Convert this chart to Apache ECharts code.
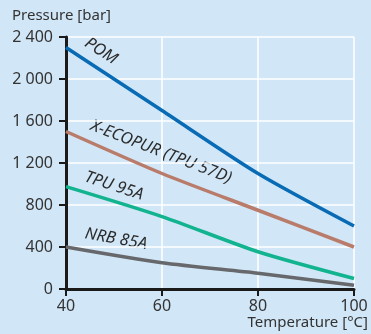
<!DOCTYPE html>
<html>
<head>
<meta charset="utf-8">
<script src="https://cdn.jsdelivr.net/npm/echarts@6/dist/echarts.min.js"></script>
<style>
  html, body { margin: 0; padding: 0; background: #d1e6f6; }
  #chart { width: 371px; height: 334px; }
</style>
</head>
<body>
<div id="chart"></div>
<script>
const temperatures = [40, 60, 80, 100]
const pom = [2300, 1700, 1100, 600]
const xEcopur = [1500, 1100, 750, 400]
const tpu95a = [975, 690, 355, 100]
const nrb85a = [400, 250, 150, 35]
const yTicks = [0, 400, 800, 1200, 1600, 2000, 2400]

const toPairs = (vals) => temperatures.map((t, i) => [t, vals[i]])

const seriesDefs = [
  { name: 'POM', data: pom, color: '#0a6bb5' },
  { name: 'X-ECOPUR (TPU 57D)', data: xEcopur, color: '#b97b6a' },
  { name: 'TPU 95A', data: tpu95a, color: '#12b38f' },
  { name: 'NRB 85A', data: nrb85a, color: '#67686b' }
]

const axisNameStyle = { fill: '#333', fontSize: 15, fontFamily: 'Noto Sans' }
const lineLabelStyle = {
  fill: '#2b2b2b', fontSize: 16.5, fontFamily: 'Noto Sans', fontStyle: 'italic',
  align: 'center', verticalAlign: 'middle'
}
const deg = Math.PI / 180

// rotated line labels, anchored at their centre
const lineLabel = (text, cx, cy, angle) => ({
  type: 'text', x: cx, y: cy, rotation: -angle * deg,
  style: { text, ...lineLabelStyle }
})

const chart = echarts.init(document.getElementById('chart'))
chart.setOption({
  backgroundColor: '#d1e6f6',
  animation: false,
  grid: { left: 66, right: 17, top: 37, bottom: 45 },
  xAxis: {
    type: 'value',
    min: 40,
    max: 100,
    interval: 20,
    axisLine: { lineStyle: { color: '#1a1a1a', width: 3 } },
    axisTick: { length: 7, lineStyle: { color: '#1a1a1a', width: 2 } },
    axisLabel: { color: '#333', fontSize: 16, fontFamily: 'Noto Sans', margin: 9 },
    splitLine: { show: true, lineStyle: { color: '#ffffff', width: 1.5 } }
  },
  yAxis: {
    type: 'value',
    min: 0,
    max: 2400,
    interval: 400,
    axisLine: { show: true, lineStyle: { color: '#1a1a1a', width: 3 } },
    axisTick: { show: true, length: 7, lineStyle: { color: '#1a1a1a', width: 2 } },
    axisLabel: {
      color: '#333', fontSize: 16, fontFamily: 'Noto Sans', margin: 13,
      formatter: (v) => String(v).replace(/\B(?=(\d{3})+(?!\d))/g, ' ')
    },
    splitLine: { show: true, lineStyle: { color: '#ffffff', width: 1.5 } }
  },
  series: seriesDefs.map(s => ({
    name: s.name,
    type: 'line',
    data: toPairs(s.data),
    smooth: 0.25,
    showSymbol: false,
    lineStyle: { color: s.color, width: 3.5 }
  })),
  graphic: [
    { type: 'text', left: 12, top: 8, style: { text: 'Pressure [bar]', ...axisNameStyle } },
    { type: 'text', right: 3, top: 315, style: { text: 'Temperature [°C]', ...axisNameStyle } },
    lineLabel('POM', 101, 51, 33),
    lineLabel('X-ECOPUR (TPU 57D)', 161, 152, 21),
    lineLabel('TPU 95A', 114, 186, 18),
    lineLabel('NRB 85A', 116, 239, 10)
  ]
})
</script>
</body>
</html>
